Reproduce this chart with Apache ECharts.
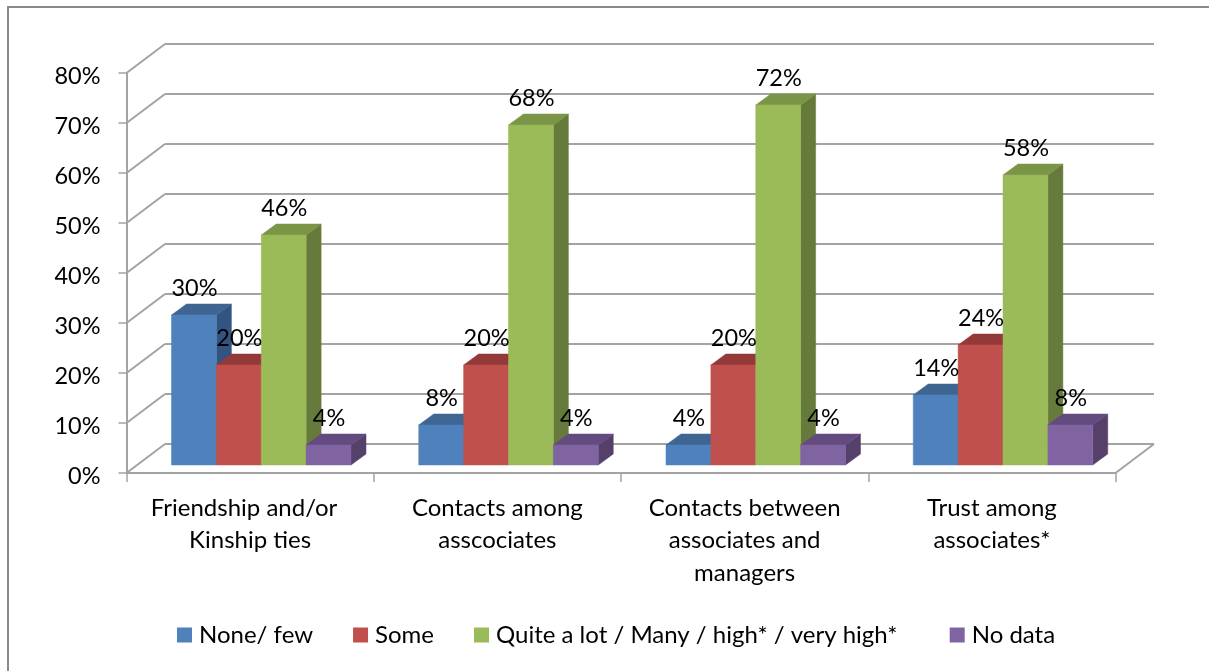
<!DOCTYPE html>
<html>
<head>
<meta charset="utf-8">
<style>html,body{margin:0;padding:0;background:#fff;overflow:hidden}#chart{width:1209px;height:671px}</style>
<script src="https://cdn.jsdelivr.net/npm/echarts@6/dist/echarts.min.js"></script>
</head>
<body>
<div id="chart"></div>
<script>
// Survey responses by type of social tie
const categories = ['Friendship and/or  \nKinship ties', 'Contacts among\nasscociates', 'Contacts between\nassociates and\nmanagers', 'Trust among\nassociates*'];
const noneFew = [30, 8, 4, 14];
const some = [20, 20, 20, 24];
const quiteALot = [46, 68, 72, 58];
const noData = [4, 4, 4, 8];
const gridTicks = [0, 10, 20, 30, 40, 50, 60, 70, 80];

const FONT = 'Lato';
const GRID_COLOR = '#a3a3a3';

// Projection of the 3D box: wall depth, bar depth and the lift of the bars off the front edge
const WALL_DX = 38.5, WALL_DY = 29;
const BAR_DX = 15, BAR_DY = 11, FLOOR_LIFT = 8;
const BAR_SHARE = 0.1815;

const palette = [
  { front: '#4f81bd', top: '#3f6592', side: '#335480' },
  { front: '#c0504d', top: '#93393a', side: '#7e3230' },
  { front: '#9bbb59', top: '#7b9547', side: '#667b3b' },
  { front: '#8064a2', top: '#644b7f', side: '#554069' }
];

function poly(points, fill) {
  return { type: 'polygon', shape: { points }, style: { fill, stroke: fill, lineWidth: 0.5 } };
}

function barSeries(name, values, idx) {
  const c = palette[idx];
  return {
    name, type: 'custom', z: 3,
    itemStyle: { color: c.front },
    data: values.map((v, i) => [i, v]),
    encode: { x: 0, y: 1 },
    renderItem(params, api) {
      const band = api.size([1, 0])[0];
      const w = band * BAR_SHARE;
      const centre = api.coord([api.value(0), 0])[0];
      const x0 = centre - band / 2 + band * 0.182 + idx * w;
      const x1 = x0 + w;
      const yBase = api.coord([api.value(0), 0])[1] - FLOOR_LIFT;
      const yTop = api.coord([api.value(0), api.value(1)])[1] - FLOOR_LIFT;
      return {
        type: 'group',
        children: [
          poly([[x1, yTop], [x1 + BAR_DX, yTop - BAR_DY], [x1 + BAR_DX, yBase - BAR_DY], [x1, yBase]], c.side),
          poly([[x0, yTop], [x0 + BAR_DX, yTop - BAR_DY], [x1 + BAR_DX, yTop - BAR_DY], [x1, yTop]], c.top),
          poly([[x0, yTop], [x1, yTop], [x1, yBase], [x0, yBase]], c.front),
          {
            type: 'text', z2: 100,
            style: {
              text: api.value(1) + '%',
              x: (x0 + x1) / 2 + 0.5, y: yTop - BAR_DY - 16,
              align: 'center', verticalAlign: 'middle',
              font: '23.5px ' + FONT, fill: '#000'
            }
          }
        ]
      };
    }
  };
}

// Back wall gridlines and the side wall / floor diagonals
const wallSeries = {
  type: 'custom', z: 1, silent: true,
  data: gridTicks.map(v => [0, v]),
  encode: { x: 0, y: 1 },
  renderItem(params, api) {
    const rect = params.coordSys;
    const y = api.coord([0, api.value(1)])[1];
    const line = (x1, y1, x2, y2) => ({
      type: 'line', shape: { x1, y1, x2, y2 },
      style: { stroke: GRID_COLOR, lineWidth: 2 }
    });
    const children = [
      line(rect.x, y, rect.x + WALL_DX, y - WALL_DY),
      line(rect.x + WALL_DX, y - WALL_DY, rect.x + rect.width + WALL_DX, y - WALL_DY)
    ];
    if (api.value(1) === 0) {
      children.push(line(rect.x + rect.width, y, rect.x + rect.width + WALL_DX, y - WALL_DY));
    }
    return { type: 'group', children };
  }
};

const legendNames = ['None/ few', 'Some', 'Quite a lot / Many / high* / very high*', 'No data'];

const chart = echarts.init(document.getElementById('chart'), null, { renderer: 'canvas' });
chart.setOption({
  animation: false,
  backgroundColor: '#fff',
  graphic: [{
    type: 'rect', silent: true, z: 0,
    shape: { x: 8, y: 7, width: 1400, height: 900 },
    style: { fill: 'none', stroke: '#8a8a8a', lineWidth: 2 }
  }],
  grid: { left: 126.5, right: 93.5, top: 73, height: 400 },
  xAxis: {
    type: 'category',
    data: categories,
    axisLine: { lineStyle: { color: GRID_COLOR, width: 2 } },
    axisTick: { show: true, length: 9, lineStyle: { color: GRID_COLOR, width: 1.5 } },
    axisLabel: { interval: 0, margin: 19, color: '#000', fontFamily: FONT, fontSize: 24, lineHeight: 32.5 }
  },
  yAxis: {
    type: 'value', min: 0, max: 80, interval: 10,
    axisLine: { show: true, lineStyle: { color: GRID_COLOR, width: 2 } },
    axisTick: { show: true, length: 8, lineStyle: { color: GRID_COLOR, width: 1.5 } },
    axisLabel: {
      formatter: v => '{t|' + v + '%}', margin: 26,
      rich: { t: { color: '#000', fontFamily: FONT, fontSize: 23.5, padding: [6, 0, 0, 0] } }
    },
    splitLine: { show: false }
  },
  legend: {
    left: 177, top: 623, padding: 0,
    icon: 'rect', itemWidth: 15, itemHeight: 15, itemGap: 40,
    data: legendNames,
    // the long entry carries extra space after it before the last key
    formatter: name => name === legendNames[2] ? name + '\u00a0\u00a0' : name,
    textStyle: { color: '#000', fontFamily: FONT, fontSize: 24, padding: [0, 0, 0, 2] }
  },
  series: [
    wallSeries,
    barSeries(legendNames[0], noneFew, 0),
    barSeries(legendNames[1], some, 1),
    barSeries(legendNames[2], quiteALot, 2),
    barSeries(legendNames[3], noData, 3)
  ]
});
</script>
</body>
</html>
